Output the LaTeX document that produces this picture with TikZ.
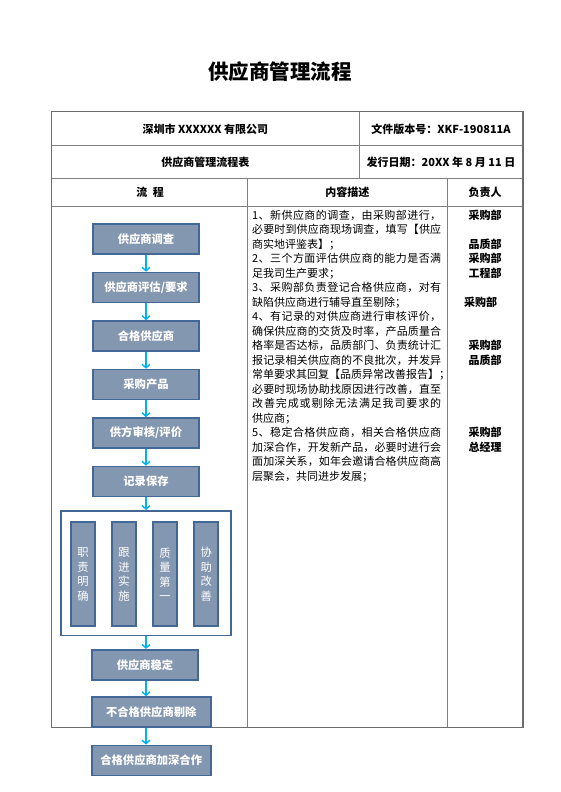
\documentclass[tikz,border=0pt]{standalone}
\usepackage{fontspec}
\setmainfont{Noto Sans CJK SC}
\usetikzlibrary{arrows.meta,calc}
\definecolor{boxfill}{RGB}{132,151,176}
\definecolor{boxline}{RGB}{68,104,150}
\definecolor{arrowc}{RGB}{0,176,240}
\definecolor{gridc}{RGB}{128,128,128}
\tikzset{
  flowbox/.style={draw=boxline, fill=boxfill, line width=1.6pt, minimum width=106pt, minimum height=30pt, inner sep=0pt, text=white, font=\fontsize{11.3}{13}\selectfont\bfseries},
  widebox/.style={flowbox, minimum width=119pt},
  vbox/.style={draw=boxline, fill=boxfill, line width=1.8pt, minimum width=24pt, minimum height=104pt, inner sep=0pt, text=white, align=center, font=\fontsize{11.3}{14.6}\selectfont},
  holder/.style={draw=boxline, fill=white, line width=1.5pt, minimum width=170pt, minimum height=124.5pt, inner sep=0pt},
  flowarrow/.style={draw=arrowc, line width=1.4pt, -{Straight Barb[length=3.5pt,width=8pt,line width=1.4pt]}},
  headtext/.style={inner sep=0pt, font=\fontsize{11}{13}\selectfont\bfseries},
  desctext/.style={anchor=base west, inner sep=0pt, font=\fontsize{11}{13}\selectfont},
  restext/.style={anchor=base, inner sep=0pt, font=\fontsize{11}{13}\selectfont\bfseries},
}
\def\spreadit#1{\ifx#1\relax\else#1\hskip 0pt plus 1fil\expandafter\spreadit\fi}
\newcommand\jline[2]{\if#1j\hbox to 189pt{\expandafter\spreadit#2\relax\unskip}\else#2\fi}
\begin{document}
\begin{tikzpicture}[x=1pt,y=-1pt]
\useasboundingbox[fill=white] (0,0) rectangle (560,792);
% title
\node[inner sep=0pt, font=\fontsize{20.5}{24}\selectfont\bfseries] (title) at (280,72) {供应商管理流程};
% table grid
\draw[gridc, line width=0.9pt] (51.7,145.7) -- (523,145.7);
\draw[gridc, line width=0.9pt] (51.7,178.3) -- (523,178.3);
\draw[gridc, line width=0.9pt] (51.7,206.7) -- (523,206.7);
\draw[gridc, line width=0.9pt] (359,111.7) -- (359,178.3);
\draw[gridc, line width=0.9pt] (247.3,178.3) -- (247.3,727.7);
\draw[gridc, line width=0.9pt] (447.3,178.3) -- (447.3,727.7);
\draw[gridc!85!black, line width=1.5pt] (51.7,111.7) rectangle (523,727.7);
% header texts
\node[headtext] (h1) at (205.3,129) {深圳市 XXXXXX 有限公司};
\node[headtext] (h2) at (441,129) {文件版本号：XKF-190811A};
\node[headtext] (h3) at (205.3,162) {供应商管理流程表};
\node[headtext] (h4) at (441,162) {发行日期：20XX 年 8 月 11 日};
\node[headtext] (h5) at (150,192.5) {流\hspace{0.5em}程};
\node[headtext] (h6) at (347.3,192.5) {内容描述};
\node[headtext] (h7) at (485,192.5) {负责人};
% description lines
\foreach \f/\t [count=\i] in {
j/1、新供应商的调查，由采购部进行，,
j/必要时到供应商现场调查，填写【供应,
n/商实地评鉴表】；,
j/2、三个方面评估供应商的能力是否满,
n/足我司生产要求；,
j/3、采购部负责登记合格供应商，对有,
n/缺陷供应商进行辅导直至剔除；,
j/4、有记录的对供应商进行审核评价，,
j/确保供应商的交货及时率，产品质量合,
j/格率是否达标，品质部门、负责统计汇,
j/报记录相关供应商的不良批次，并发异,
j/常单要求其回复【品质异常改善报告】；,
j/必要时现场协助找原因进行改善，直至,
j/改善完成或剔除无法满足我司要求的,
n/供应商；,
j/5、稳定合格供应商，相关合格供应商,
j/加深合作，开发新产品，必要时进行会,
j/面加深关系，如年会邀请合格供应商高,
n/层聚会，共同进步发展；}
  \node[desctext] (d\i) at (252,{219.2+(\i-1)*14.5}) {\jline{\f}{\t}};
% responsible
\node[restext] (r1) at (485,219.2) {采购部};
\node[restext] (r2) at (485,{219.2+2*14.5}) {品质部};
\node[restext] (r3) at (485,{219.2+3*14.5}) {采购部};
\node[restext] (r4) at (485,{219.2+4*14.5}) {工程部};
\node[restext] (r5) at (480.5,{219.2+6*14.5}) {采购部};
\node[restext] (r6) at (485,{219.2+9*14.5}) {采购部};
\node[restext] (r7) at (485,{219.2+10*14.5}) {品质部};
\node[restext] (r8) at (485,{219.2+15*14.5}) {采购部};
\node[restext] (r9) at (485,{219.2+16*14.5}) {总经理};
% flow
\node[flowbox] (b1) at (146,239) {供应商调查};
\node[flowbox] (b2) at (146,287.5) {供应商评估/要求};
\node[flowbox] (b3) at (146,336) {合格供应商};
\node[flowbox] (b4) at (146,384.5) {采购产品};
\node[flowbox] (b5) at (146,433) {供方审核/评价};
\node[flowbox] (b6) at (146,481.5) {记录保存};
\node[holder] (hold) at (146,573) {};
\node[vbox] (v1) at (82.9,574.3) {职\\责\\明\\确};
\node[vbox] (v2) at (123.9,574.3) {跟\\进\\实\\施};
\node[vbox] (v3) at (164.9,574.3) {质\\量\\第\\一};
\node[vbox] (v4) at (206.2,574.3) {协\\助\\改\\善};
\node[flowbox] (b7) at (145,664.7) {供应商稳定};
\node[widebox] (b8) at (151.2,712) {不合格供应商剔除};
\node[widebox] (b9) at (151.2,760.4) {合格供应商加深合作};
% arrows
\draw[flowarrow] (b1.south) -- (b2.north);
\draw[flowarrow] (b2.south) -- (b3.north);
\draw[flowarrow] (b3.south) -- (b4.north);
\draw[flowarrow] (b4.south) -- (b5.north);
\draw[flowarrow] (b5.south) -- (b6.north);
\draw[flowarrow] (b6.south) -- (b6.south |- hold.north);
\draw[flowarrow] (b6.south |- hold.south) -- (b6.south |- b7.north);
\draw[flowarrow] (b6.south |- b7.south) -- (b6.south |- b8.north);
\draw[flowarrow] (b6.south |- b8.south) -- (b6.south |- b9.north);
\end{tikzpicture}
\end{document}
